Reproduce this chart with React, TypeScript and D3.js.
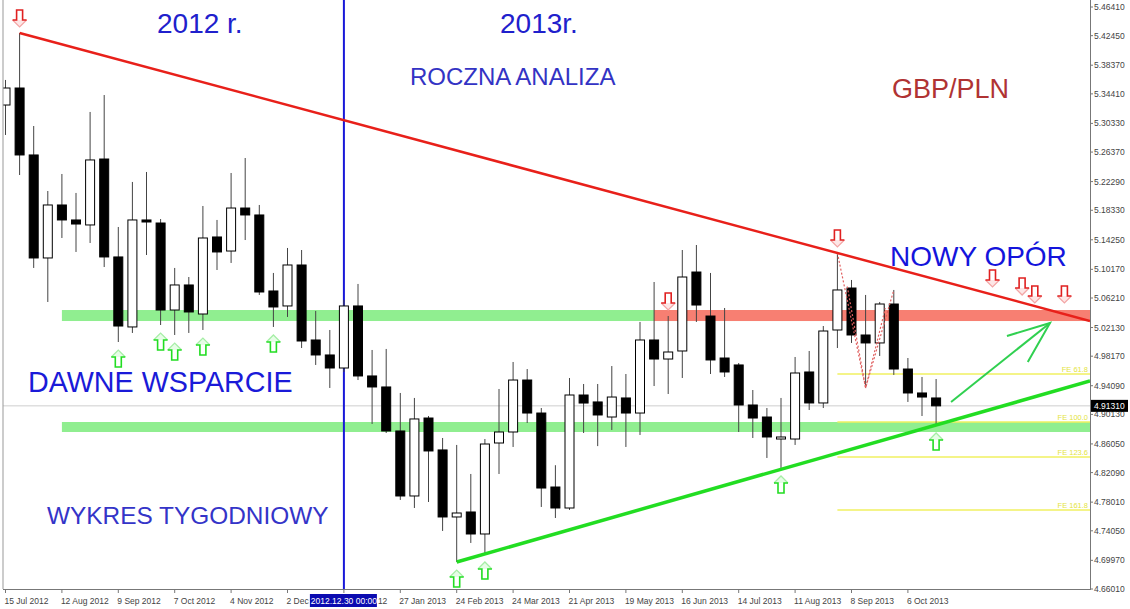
import React from 'react';
import * as d3 from 'd3';

const W = 1130;
const H = 609;

// Weekly GBP/PLN candles, 15 Jul 2012 .. 20 Oct 2013
const openP = [5.3287,5.3522,5.2597,5.1174,5.1906,5.1699,5.1630,5.2541,5.1188,5.0221,5.1699,5.1657,5.0455,5.0801,5.0400,5.1464,5.1270,5.1864,5.1768,5.0718,5.0511,5.1077,5.0041,4.9834,4.9654,5.0511,4.9544,4.9392,4.8784,4.7886,4.8963,4.8522,4.7596,4.7665,4.7361,4.8618,4.8770,4.9488,4.9032,4.8010,4.7720,4.9281,4.9185,4.8977,4.9240,4.9032,5.0041,4.9778,4.9889,5.0980,5.0372,4.9792,4.9696,4.9143,4.8977,4.8673,4.8673,4.9599,4.9171,5.0179,5.0759,5.0110,5.0000,5.0538,4.9640,4.9309,4.9240];
const highP = [5.3633,5.4282,5.2997,5.2099,5.2334,5.2072,5.3191,5.3425,5.1602,5.2224,5.2362,5.1712,5.1036,5.0911,5.1892,5.1699,5.2348,5.2555,5.1906,5.0967,5.1312,5.1284,5.0442,5.0179,5.0594,5.0815,4.9903,4.9917,4.9309,4.9240,4.8991,4.8687,4.8591,4.8190,4.8673,4.9364,4.9737,4.9640,4.9101,4.8311,4.9516,4.9433,4.9433,4.9681,4.9571,5.0290,5.0842,5.0372,5.1284,5.1353,5.0967,5.0483,4.9723,4.9350,4.9101,4.9240,4.9806,4.9889,5.0234,5.1243,5.0870,5.0663,5.0566,5.0732,4.9792,4.9530,4.9502];
const lowP = [5.2873,5.2320,5.1036,5.0566,5.1450,5.1257,5.1381,5.1049,5.0013,5.0138,5.1215,5.0248,5.0110,5.0138,5.0179,5.1008,5.1105,5.1422,5.0663,5.0221,5.0359,4.9930,4.9696,4.9378,4.9599,4.9488,4.8881,4.8756,4.7831,4.7720,4.7803,4.7403,4.6974,4.7237,4.7085,4.8190,4.8563,4.8894,4.7734,4.7582,4.7693,4.8756,4.8575,4.8798,4.8563,4.8729,4.9405,4.9295,4.9516,5.0290,4.9571,4.9530,4.8770,4.8687,4.8411,4.8273,4.8591,4.9074,4.9101,4.9930,5.0000,4.9378,4.9820,4.9558,4.9185,4.8991,4.8867];
const closeP = [5.3522,5.2597,5.1174,5.1906,5.1699,5.1643,5.2528,5.1188,5.0234,5.1699,5.1671,5.0455,5.0801,5.0428,5.1450,5.1257,5.1864,5.1768,5.0704,5.0497,5.1077,5.0027,4.9834,4.9654,5.0511,4.9544,4.9392,4.8784,4.7886,4.8950,4.8508,4.7596,4.7651,4.7361,4.8604,4.8770,4.9488,4.9032,4.7996,4.7720,4.9281,4.9170,4.9005,4.9253,4.9032,5.0041,4.9778,4.9875,5.0911,5.0524,4.9765,4.9599,4.9143,4.8963,4.8701,4.8701,4.9585,4.9171,5.0165,5.0732,5.0110,5.0000,5.0538,4.9640,4.9309,4.9253,4.9131];

const priceTicks = [5.46410,5.42450,5.38370,5.34410,5.30330,5.26370,5.22290,5.18330,5.14250,5.10170,5.06210,5.02130,4.98170,4.94090,4.90130,4.86050,4.82090,4.78010,4.74050,4.69970,4.66010];
const dateTickIdx = [0,4,8,12,16,20,24,28,32,36,40,44,48,52,56,60,64];
const dateTickLabels = ['15 Jul 2012','12 Aug 2012','9 Sep 2012','7 Oct 2012','4 Nov 2012','2 Dec 2012','30 Dec 2012','27 Jan 2013','24 Feb 2013','24 Mar 2013','21 Apr 2013','19 May 2013','16 Jun 2013','14 Jul 2013','11 Aug 2013','8 Sep 2013','6 Oct 2013'];
const currentPrice = 4.91310;
const yearSplitIdx = 24;
const yearSplitLabel = '2012.12.30 00:00';

// horizontal zones [low, high, startIdx]
const supportZones = [[5.0303,5.0455,4],[4.8770,4.8908,4]];
const resistZone = [5.0303,5.0455,46];
const feLevels = [4.9571,4.8908,4.8425,4.7693];
const feLabels = ['FE 61.8','FE 100.0','FE 123.6','FE 161.8'];
const feStartIdx = 59;

// trendlines anchored at candles
const resistAnchors = [1,59];
const supportAnchors = [32,66];

const upArrowIdx = [8,11,12,14,19,32,34,55,66];
const downArrowIdx = [1,47,59];
const futureDownIdx = [70,72.1,73,75.1];
const futureDownPrice = [5.0773,5.0662,5.0552,5.0552];
const projArrow = [[67.06,4.9184],[74.08,5.0276]];

const fontF = '"Liberation Sans", Arial, sans-serif';

export default function App() {
  const xEnd = 1090;
  const x = d3.scaleLinear().domain([0, 77]).range([5.5, 5.5 + 14.1 * 77]);
  const y = d3.scaleLinear().domain([4.6601, 5.4641]).range([589, 7]);
  const iEnd = x.invert(xEnd);
  const bw = 9;

  const lineThrough = (i1: number, p1: number, i2: number, p2: number) => {
    const s = (p2 - p1) / (i2 - i1);
    return [[x(i1), y(p1)], [xEnd, y(p1 + s * (iEnd - i1))]];
  };
  const rl = lineThrough(resistAnchors[0], highP[resistAnchors[0]], resistAnchors[1], highP[resistAnchors[1]]);
  const sl = lineThrough(supportAnchors[0], lowP[supportAnchors[0]], supportAnchors[1], lowP[supportAnchors[1]]);
  const line = d3.line();

  const downArrow = (cx: number, bottom: number, key: string) => (
    <g key={key} transform={`translate(${cx},${bottom - 17})`}>
      <path d="M-7,10 L0,17 L7,10" fill="#fde6e6" stroke="#f3a5a5" strokeWidth={1.2} />
      <path d="M-7,10 L-3,10 L-3,0 L3,0 L3,10 L7,10" fill="none" stroke="#e02020" strokeWidth={1.6} />
    </g>
  );
  const upArrow = (cx: number, top: number, key: string) => (
    <g key={key} transform={`translate(${cx},${top})`}>
      <path d="M-7,7 L0,0 L7,7" fill="#e6fde6" stroke="#a5eea5" strokeWidth={1.2} />
      <path d="M-7,7 L-3,7 L-3,17 L3,17 L3,7 L7,7" fill="none" stroke="#22dd22" strokeWidth={1.6} />
    </g>
  );

  const dotted1 = line([[x(59), y(highP[59])], [x(61), y(lowP[61])], [x(63), y(highP[63])]] as any);
  const dotted2 = line([[x(59.7), y(5.0780)], [x(61), y(lowP[61])], [x(62.4), y(5.0480)]] as any);

  const pa0: [number, number] = [x(projArrow[0][0]), y(projArrow[0][1])];
  const pa1: [number, number] = [x(projArrow[1][0]), y(projArrow[1][1])];
  const ang = Math.atan2(pa1[1] - pa0[1], pa1[0] - pa0[0]);
  const hl = 45;
  const h1: [number, number] = [pa1[0] - hl * Math.cos(ang - 0.38), pa1[1] - hl * Math.sin(ang - 0.38)];
  const h2: [number, number] = [pa1[0] - hl * Math.cos(ang + 0.38), pa1[1] - hl * Math.sin(ang + 0.38)];

  const boxL = x(yearSplitIdx) - 34;
  const boxR = boxL + 67;
  const splitPos = dateTickIdx.indexOf(yearSplitIdx);

  return (
    <svg width={W} height={H} style={{ position: 'absolute', left: 0, top: 0, background: '#fff' }}>
      <defs>
        <clipPath id="plot"><rect x={3} y={0} width={xEnd - 3} height={589} /></clipPath>
      </defs>
      <rect x={0} y={0} width={W} height={H} fill="#fff" />
      <g clipPath="url(#plot)">
        {supportZones.map((z, k) => (
          <rect key={'sz' + k} x={x(z[2])} y={y(z[1])} width={xEnd - x(z[2])} height={y(z[0]) - y(z[1])} fill="#90ee90" />
        ))}
        <rect x={x(resistZone[2])} y={y(resistZone[1])} width={xEnd - x(resistZone[2])} height={y(resistZone[0]) - y(resistZone[1])} fill="#f77f72" />
        {feLevels.map((p, k) => (
          <g key={'fe' + k}>
            <line x1={x(feStartIdx)} x2={xEnd} y1={y(p)} y2={y(p)} stroke="#f0f060" strokeWidth={1.5} />
            <text x={xEnd - 2} y={y(p) - 2} textAnchor="end" fontFamily={fontF} fontSize={7.5} fill="#e4e440">{feLabels[k]}</text>
          </g>
        ))}
        <line x1={3} x2={xEnd} y1={y(currentPrice)} y2={y(currentPrice)} stroke="#cfcfcf" strokeWidth={1} />
        <line x1={x(yearSplitIdx)} x2={x(yearSplitIdx)} y1={0} y2={589} stroke="#1818d8" strokeWidth={2} />
        {openP.map((o, i) => {
          const c = closeP[i];
          const up = c >= o;
          const top = y(Math.max(o, c));
          const bot = y(Math.min(o, c));
          return (
            <g key={'c' + i}>
              <line x1={x(i)} x2={x(i)} y1={y(highP[i])} y2={y(lowP[i])} stroke="#444" strokeWidth={1} />
              <rect x={x(i) - bw / 2} y={top} width={bw} height={Math.max(bot - top, 1.5)}
                fill={up ? '#fff' : '#000'} stroke="#000" strokeWidth={1} />
            </g>
          );
        })}
        <path d={dotted1 || ''} fill="none" stroke="#e06060" strokeWidth={1.2} strokeDasharray="2,2" />
        <path d={dotted2 || ''} fill="none" stroke="#e06060" strokeWidth={1.2} strokeDasharray="2,2" />
        <path d={line(rl as any) || ''} stroke="#e8201a" strokeWidth={2.5} fill="none" />
        <path d={line(sl as any) || ''} stroke="#22dd22" strokeWidth={3.5} fill="none" />
        <path d={line([pa0, pa1]) || ''} stroke="#30d050" strokeWidth={2} fill="none" />
        <path d={line([h1, pa1, h2]) || ''} stroke="#30d050" strokeWidth={2} fill="none" />
        {upArrowIdx.map(i => upArrow(x(i), y(lowP[i]) + 8, 'u' + i))}
        {downArrowIdx.map(i => downArrow(x(i), y(highP[i]) - 6, 'd' + i))}
        {futureDownIdx.map((i, k) => downArrow(x(i), y(futureDownPrice[k]), 'f' + k))}
      </g>
      <line x1={3} x2={3} y1={0} y2={589} stroke="#999" />
      <line x1={3} x2={xEnd} y1={589.5} y2={589.5} stroke="#777" />
      <line x1={xEnd + 0.5} x2={xEnd + 0.5} y1={0} y2={590} stroke="#777" />
      {priceTicks.map((p, k) => (
        <g key={'pt' + k}>
          <line x1={xEnd} x2={xEnd + 3} y1={y(p)} y2={y(p)} stroke="#777" />
          <text x={xEnd + 4} y={y(p) + 3} fontFamily={fontF} fontSize={8.5} fill="#444">{p.toFixed(5)}</text>
        </g>
      ))}
      <rect x={xEnd + 1} y={y(currentPrice) - 6} width={37} height={12} fill="#000" />
      <text x={xEnd + 4} y={y(currentPrice) + 3} fontFamily={fontF} fontSize={8.5} fill="#fff">{currentPrice.toFixed(5)}</text>
      {dateTickIdx.map((i, k) => {
        let label = dateTickLabels[k];
        let tx = x(i) - 1;
        if (k === splitPos - 1) label = label.split(' ').slice(0, 2).join(' ');
        if (k === splitPos) { label = label.slice(-2); tx = boxR + 1; }
        return (
          <g key={'dt' + k}>
            <line x1={x(i)} x2={x(i)} y1={589} y2={593} stroke="#777" />
            <text x={tx} y={604} fontFamily={fontF} fontSize={8.5} fill="#444">{label}</text>
          </g>
        );
      })}
      <rect x={boxL} y={594} width={67} height={13} fill="#0b0bb0" />
      <text x={x(yearSplitIdx)} y={604} textAnchor="middle" fontFamily={fontF} fontSize={8.5} fill="#fff">{yearSplitLabel}</text>
      <text x={157} y={33} fontFamily={fontF} fontSize={28} fill="#2020cc">2012 r.</text>
      <text x={500} y={33} fontFamily={fontF} fontSize={28} fill="#2020cc">2013r.</text>
      <text x={410} y={85} fontFamily={fontF} fontSize={24} fill="#3333c4">ROCZNA ANALIZA</text>
      <text x={892} y={98} fontFamily={fontF} fontSize={27} fill="#b03333">GBP/PLN</text>
      <text x={890} y={266} fontFamily={fontF} fontSize={28} fill="#1414dc">NOWY OPÓR</text>
      <text x={28} y={392} fontFamily={fontF} fontSize={28.7} fill="#1a1ad8">DAWNE WSPARCIE</text>
      <text x={47} y={524} fontFamily={fontF} fontSize={24.4} fill="#3434c8">WYKRES TYGODNIOWY</text>
    </svg>
  );
}
